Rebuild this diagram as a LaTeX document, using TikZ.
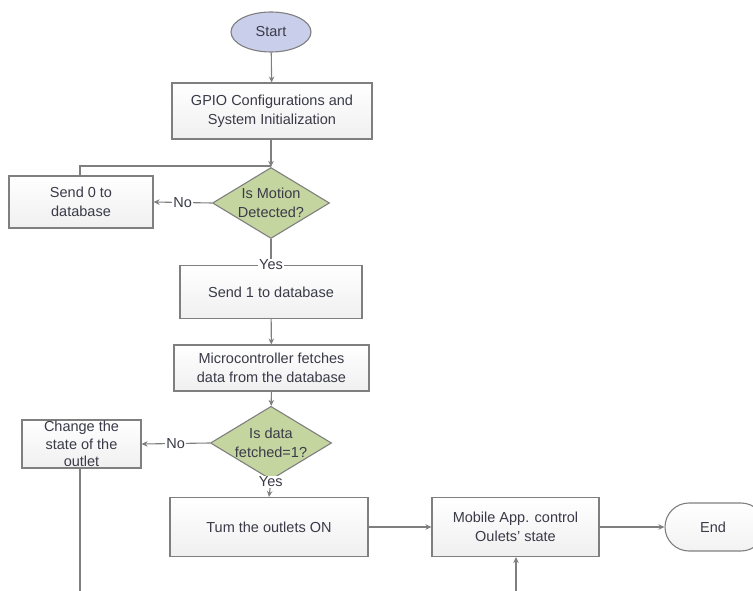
\documentclass[tikz,border=0pt]{standalone}
\usepackage{fontspec}
\setmainfont{Liberation Sans}
\usetikzlibrary{shapes.geometric,arrows.meta}
\definecolor{txt}{HTML}{3A3A48}
\definecolor{edge}{HTML}{7F7F7F}
\definecolor{dfill}{HTML}{C4D5A0}
\definecolor{sfill}{HTML}{C9CFEA}
\tikzset{
  base/.style={font=\fontsize{14.5}{19}\selectfont, text=txt, align=center, draw=edge, line width=1.1pt},
  procbox/.style={base, rectangle, top color=white, bottom color=gray!12, inner sep=0pt},
  decis/.style={base, diamond, fill=dfill, aspect=1.65, inner sep=0pt},
  startnode/.style={base, ellipse, fill=sfill, minimum width=80pt, minimum height=40pt, inner sep=0pt},
  endnode/.style={base, rectangle, rounded corners=24pt, top color=white, bottom color=gray!10, minimum height=48pt, minimum width=100pt},
  conn/.style={draw=edge, line width=1.1pt, -{Stealth[length=6pt,width=5.5pt]}},
  plain/.style={draw=edge, line width=1.1pt},
  lbl/.style={font=\fontsize{14.5}{16}\selectfont, text=txt, fill=white, inner sep=1pt}
}
\begin{document}
\begin{tikzpicture}[x=1pt,y=-1pt]
\useasboundingbox (0,0) rectangle (753,591);
\node[startnode] (start) at (271,32) {Start};
\node[procbox, minimum width=200pt, minimum height=56pt] (gpio) at (272,111) {GPIO Configurations and\\System Initialization};
\node[decis, minimum width=117pt, minimum height=71pt] (d1) at (271,203) {Is Motion\\Detected?};
\node[procbox, minimum width=144pt, minimum height=52pt] (s0) at (81,202) {Send 0 to\\database};
\node[procbox, minimum width=182pt, minimum height=53pt] (s1) at (271,292) {Send 1 to database};
\node[procbox, minimum width=195pt, minimum height=46pt] (mc) at (271.5,368) {Microcontroller fetches\\data from the database};
\node[decis, minimum width=117pt, minimum height=68pt] (d2) at (271,443) {Is data\\fetched=1?};
\node[procbox, minimum width=119pt, minimum height=48pt, font=\fontsize{14.5}{17.5}\selectfont] (chg) at (81.5,444) {Change the\\state of the\\outlet};
\node[procbox, minimum width=198pt, minimum height=59pt] (on) at (269,527) {Tum the outlets ON};
\node[procbox, minimum width=167pt, minimum height=59pt] (mob) at (515.5,527) {Mobile App. control\\Oulets' state};
\node[endnode] (end) at (715,527) {\hspace*{-4pt}End};
\coordinate (loopa) at (80,166);
\coordinate (loopb) at (271,166);
\coordinate (chgend) at (80,591);
\coordinate (mobin) at (516,591);

\draw[conn] (start) -- (gpio);
\draw[conn] (gpio.south -| d1.north) -- (d1.north);
\draw[plain] (s0.north -| loopa) -- (loopa) -- (loopb);
\draw[conn] (d1.west) -- node[lbl]{No} (s0.east);
\draw[conn] (d1.south) -- (s1.north) node[lbl, pos=1]{Yes};
\draw[conn] (s1) -- (mc);
\draw[conn] (mc) -- (d2);
\draw[conn] (d2.west) -- node[lbl]{No} (chg.east);
\draw[conn] (d2.south) -- (on.north) node[lbl, pos=0.1]{Yes};
\draw[plain] (chg.south -| chgend) -- (chgend);
\draw[conn] (on) -- (mob);
\draw[conn] (mob) -- (end);
\draw[conn] (mobin) -- (mob.south -| mobin);
\end{tikzpicture}
\end{document}
